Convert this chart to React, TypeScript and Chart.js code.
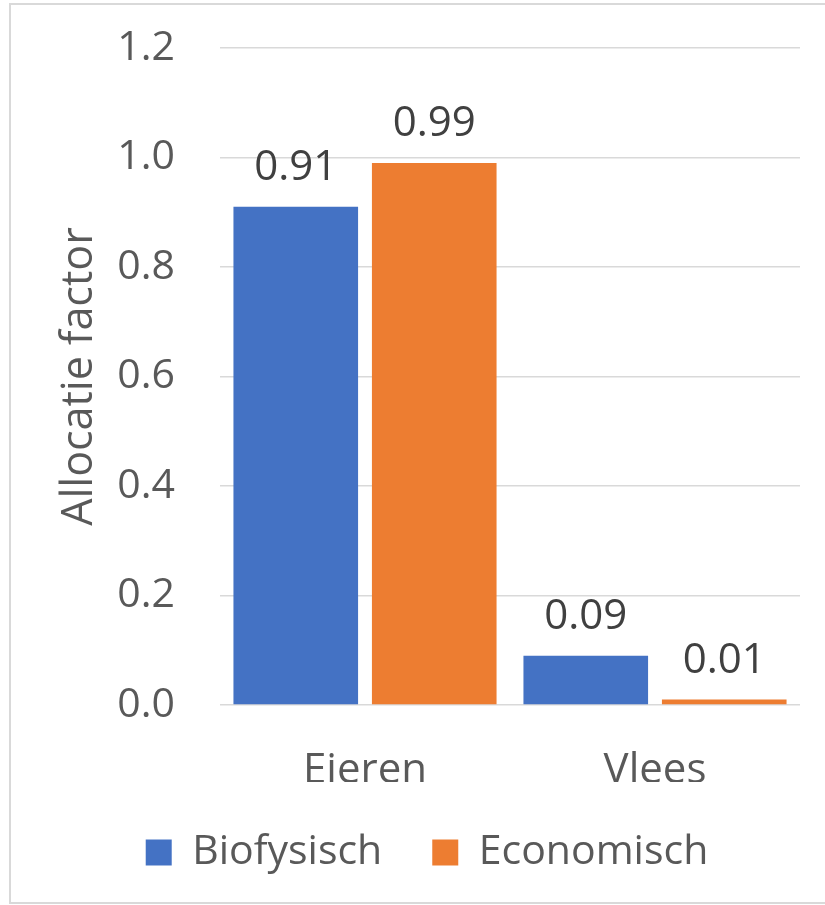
import React, { useEffect, useRef } from "react";
import { Chart, registerables } from "chart.js";

Chart.register(...registerables);

const categories = ["Eieren", "Vlees"];
const seriesNames = ["Biofysisch", "Economisch"];
const biofysisch = [0.91, 0.09];
const economisch = [0.99, 0.01];
const yTicks = [0, 0.2, 0.4, 0.6, 0.8, 1.0, 1.2];
const yTitle = "Allocatie factor";

const FONT = "'Open Sans', sans-serif";
const BLUE = "#4472C4";
const ORANGE = "#ED7D31";

const dataLabels = {
  id: "dataLabels",
  afterDatasetsDraw(chart: any) {
    const ctx = chart.ctx;
    ctx.save();
    ctx.font = `42px ${FONT}`;
    ctx.fillStyle = "#404040";
    ctx.textAlign = "center";
    ctx.textBaseline = "alphabetic";
    chart.data.datasets.forEach((ds: any, i: number) => {
      const meta = chart.getDatasetMeta(i);
      meta.data.forEach((bar: any, j: number) => {
        const v = ds.data[j] as number;
        ctx.fillText(v.toFixed(2), bar.x, bar.y - 27);
      });
    });
    ctx.restore();
  },
};

export default function App() {
  const ref = useRef<HTMLCanvasElement | null>(null);

  useEffect(() => {
    if (!ref.current) return;
    const chart = new Chart(ref.current, {
      type: "bar",
      data: {
        labels: categories,
        datasets: [
          {
            label: seriesNames[0],
            data: biofysisch,
            backgroundColor: BLUE,
            categoryPercentage: 0.955,
            barPercentage: 0.9,
          },
          {
            label: seriesNames[1],
            data: economisch,
            backgroundColor: ORANGE,
            categoryPercentage: 0.955,
            barPercentage: 0.9,
          },
        ],
      },
      options: {
        responsive: false,
        animation: false,
        layout: { padding: { left: 54, right: 25, top: 48, bottom: 22 } },
        plugins: {
          tooltip: { enabled: false },
          legend: {
            position: "bottom",
            labels: {
              font: { family: FONT, size: 41 },
              color: "#595959",
              boxWidth: 26,
              boxHeight: 26,
              padding: 50,
            },
          },
        },
        scales: {
          x: {
            grid: { display: false },
            border: { display: false },
            afterFit: (s: any) => {
              s.height = 77;
            },
            ticks: {
              font: { family: FONT, size: 42 },
              color: "#595959",
              padding: 33,
            },
          },
          y: {
            min: 0,
            max: 1.2,
            afterBuildTicks: (s: any) => {
              s.ticks = yTicks.map((v) => ({ value: v }));
            },
            afterFit: (s: any) => {
              s.width = 166;
            },
            grid: {
              color: "#D9D9D9",
              lineWidth: 1.5,
              drawTicks: true,
              tickLength: 40,
              tickColor: "rgba(0,0,0,0)",
            },
            border: { display: false },
            ticks: {
              font: { family: FONT, size: 41 },
              color: "#595959",
              padding: 5,
              callback: (v: any) => Number(v).toFixed(1),
            },
            title: {
              display: true,
              text: yTitle,
              font: { family: FONT, size: 43 },
              color: "#595959",
              padding: { top: 0, bottom: 0 },
            },
          },
        },
      },
      plugins: [dataLabels],
    });
    return () => chart.destroy();
  }, []);

  return (
    <div
      style={{
        position: "absolute",
        left: 0,
        top: 0,
        width: 825,
        height: 905,
        background: "#fff",
        overflow: "hidden",
      }}
    >
      <canvas ref={ref} width={825} height={905} style={{ display: "block" }} />
      <div
        style={{
          position: "absolute",
          left: 9,
          top: 3,
          width: 830,
          height: 897,
          borderTop: "2px solid #D9D9D9",
          borderLeft: "2px solid #D9D9D9",
          borderBottom: "2px solid #D9D9D9",
          pointerEvents: "none",
        }}
      />
    </div>
  );
}
